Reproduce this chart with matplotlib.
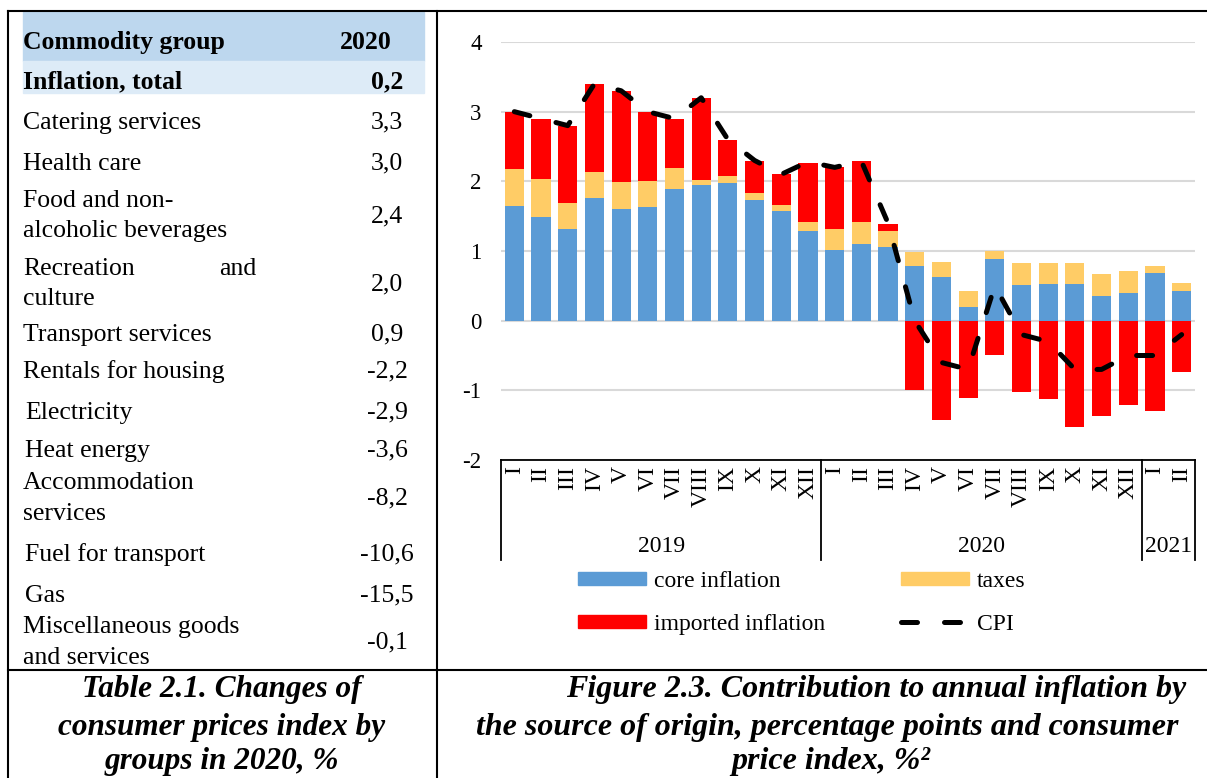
import numpy as np
import matplotlib.pyplot as plt
from matplotlib.patches import Patch, Rectangle
from matplotlib.lines import Line2D

plt.rcParams['font.family'] = ['Liberation Serif', 'DejaVu Serif']
plt.rcParams['axes.unicode_minus'] = False

# --- table data (Table 2.1) ---
groups = ["Inflation, total", "Catering services", "Health care",
          "Food and non-\nalcoholic beverages", "Recreation and\nculture",
          "Transport services", "Rentals for housing", "Electricity",
          "Heat energy", "Accommodation\nservices", "Fuel for transport",
          "Gas", "Miscellaneous goods\nand services"]
changes_2020 = [0.2, 3.3, 3.0, 2.4, 2.0, 0.9, -2.2, -2.9, -3.6, -8.2, -10.6, -15.5, -0.1]

# --- chart data (Figure 2.3) ---
months = ["I", "II", "III", "IV", "V", "VI", "VII", "VIII", "IX", "X", "XI", "XII",
          "I", "II", "III", "IV", "V", "VI", "VII", "VIII", "IX", "X", "XI", "XII",
          "I", "II"]
years = ["2019", "2020", "2021"]
months_per_year = [12, 12, 2]
core = [1.64, 1.49, 1.32, 1.76, 1.60, 1.63, 1.89, 1.95, 1.98, 1.73, 1.57, 1.29,
        1.01, 1.10, 1.06, 0.78, 0.63, 0.20, 0.88, 0.51, 0.52, 0.52, 0.35, 0.39,
        0.68, 0.42]
taxes = [0.53, 0.54, 0.37, 0.37, 0.39, 0.38, 0.30, 0.07, 0.10, 0.10, 0.09, 0.12,
         0.30, 0.32, 0.23, 0.21, 0.21, 0.22, 0.12, 0.32, 0.31, 0.31, 0.32, 0.33,
         0.11, 0.12]
imported = [0.83, 0.86, 1.10, 1.27, 1.31, 0.99, 0.70, 1.17, 0.52, 0.46, 0.44, 0.86,
            0.89, 0.87, 0.10, -0.99, -1.43, -1.11, -0.50, -1.02, -1.13, -1.53, -1.37, -1.21,
            -1.29, -0.74]
cpi = [3.0, 2.9, 2.8, 3.4, 3.3, 3.0, 2.9, 3.2, 2.6, 2.3, 2.1, 2.28,
       2.2, 2.29, 1.4, 0.0, -0.6, -0.7, 0.5, -0.2, -0.3, -0.7, -0.7, -0.5,
       -0.5, -0.2]

W, H = 1207, 778


def fx(x):
    return x / W


def fy(y):
    return 1 - y / H


fig = plt.figure(figsize=(W / 100, H / 100), dpi=100)

# cadre du tableau
for (x0, y0, x1, y1) in [(8, 11, 1207, 11), (8, 11, 8, 778), (437, 11, 437, 778),
                         (8, 670, 1207, 670)]:
    fig.add_artist(Line2D([fx(x0), fx(x1)], [fy(y0), fy(y1)], color='black', lw=1.5,
                          transform=fig.transFigure))

# fonds de l'en-tete
fig.add_artist(Rectangle((fx(23), fy(61)), (424 - 23) / W, (61 - 12.5) / H,
                         color='#BDD7EE', transform=fig.transFigure, zorder=0))
fig.add_artist(Rectangle((fx(23), fy(93)), (424 - 23) / W, (93 - 61) / H,
                         color='#DDEBF7', transform=fig.transFigure, zorder=0))

fs_tab = 18.5
dy = 2.5  # petit decalage vertical du texte
fig.text(fx(23), fy(40 + dy), "Commodity group", fontsize=fs_tab, weight='bold', va='center')
fig.text(fx(340), fy(40 + dy), "2020", fontsize=fs_tab, weight='bold', va='center')

row_y = [79, 120, 161, 214, 282, 332, 369, 410, 448, 496, 552, 593, 640]
indented = {"Electricity", "Heat energy", "Fuel for transport", "Gas"}
for i, (g, v) in enumerate(zip(groups, changes_2020)):
    w = 'bold' if i == 0 else 'normal'
    lines = g.split("\n")
    yc = row_y[i] + dy
    offs = [0] if len(lines) == 1 else [-15.5, 15]
    for line, o in zip(lines, offs):
        x0 = 25 if line in indented else 23
        if line == "Recreation and":
            fig.text(fx(x0), fy(yc + o), "Recreation", fontsize=fs_tab, va='center')
            fig.text(fx(256), fy(yc + o), "and", fontsize=fs_tab, va='center', ha='right')
        else:
            fig.text(fx(x0), fy(yc + o), line, fontsize=fs_tab, weight=w, va='center')
    fig.text(fx(387), fy(yc), f"{v:.1f}".replace('.', ','), fontsize=fs_tab, weight=w,
             va='center', ha='center')

# legendes sous tableau et graphique
for txt, y in zip(["Table 2.1. Changes of", "consumer prices index by", "groups in 2020, %"],
                  [690, 727, 762]):
    fig.text(fx(222), fy(y), txt, fontsize=22.5, weight='bold', style='italic',
             ha='center', va='center')
fs_cap = 23
fig.text(fx(566), fy(690), "Figure 2.3. Contribution to annual inflation by", fontsize=fs_cap,
         weight='bold', style='italic', va='center')
fig.text(fx(476), fy(727), "the source of origin, percentage points and consumer",
         fontsize=fs_cap, weight='bold', style='italic', va='center')
fig.text(fx(831), fy(762), "price index, %²", fontsize=fs_cap, weight='bold', style='italic',
         va='center', ha='center')

# --- graphique ---
ax = fig.add_axes([fx(501), fy(460), (1195 - 501) / W, (460 - 42) / H])
x = np.arange(len(months))
core = np.array(core)
taxes = np.array(taxes)
imported = np.array(imported)

c_core, c_tax, c_imp = '#5B9BD5', '#FFCC66', '#FF0000'
bw = 0.72
ax.bar(x, core, width=bw, color=c_core, zorder=2)
ax.bar(x, taxes, bottom=core, width=bw, color=c_tax, zorder=2)
ax.bar(x, np.clip(imported, 0, None), bottom=core + taxes, width=bw, color=c_imp, zorder=2)
ax.bar(x, np.clip(imported, None, 0), width=bw, color=c_imp, zorder=2)
ax.plot(x, cpi, color='black', lw=3.6, dashes=(3.2, 5.4), dash_capstyle='round', zorder=5)

ax.set_xlim(-0.5, len(months) - 0.5)
ax.set_ylim(-2, 4)
ax.set_yticks(range(-2, 5))
ax.yaxis.grid(True, color='#D9D9D9', lw=1.5)
ax.set_axisbelow(True)
for s in ['left', 'right', 'top']:
    ax.spines[s].set_visible(False)
ax.spines['bottom'].set_color('black')
ax.spines['bottom'].set_linewidth(1.3)
ax.tick_params(axis='y', length=0, pad=14, labelsize=16.5)
ax.set_xticks(x)
ax.set_xticklabels(months, rotation=90, fontsize=17)
ax.tick_params(axis='x', length=0, pad=4)

# separateurs d'annees
tr = ax.get_xaxis_transform()
start = -0.5
for yr, n in zip(years, months_per_year):
    ax.plot([start, start], [0, -0.239], transform=tr, clip_on=False, color='black', lw=1.3)
    ax.text(start + n / 2, -0.208, yr, transform=tr, ha='center', va='center', fontsize=17)
    start += n
ax.plot([start, start], [0, -0.239], transform=tr, clip_on=False, color='black', lw=1.3)

handles = [Patch(color=c_core), Patch(color=c_imp), Patch(color=c_tax),
           Line2D([], [], color='black', lw=3.6, dashes=(3.2, 5.4), dash_capstyle='round')]
labels = ["core inflation", "imported inflation", "taxes", "CPI"]
ax.legend(handles, labels, ncol=2, loc='upper left', bbox_to_anchor=(fx(578), fy(571)),
          bbox_transform=fig.transFigure, frameon=False, fontsize=17, handlelength=2.9,
          handleheight=0.5, handletextpad=0.3, columnspacing=3.23, labelspacing=0.92,
          borderpad=0, borderaxespad=0)

fig.savefig("out.png", dpi=100)
